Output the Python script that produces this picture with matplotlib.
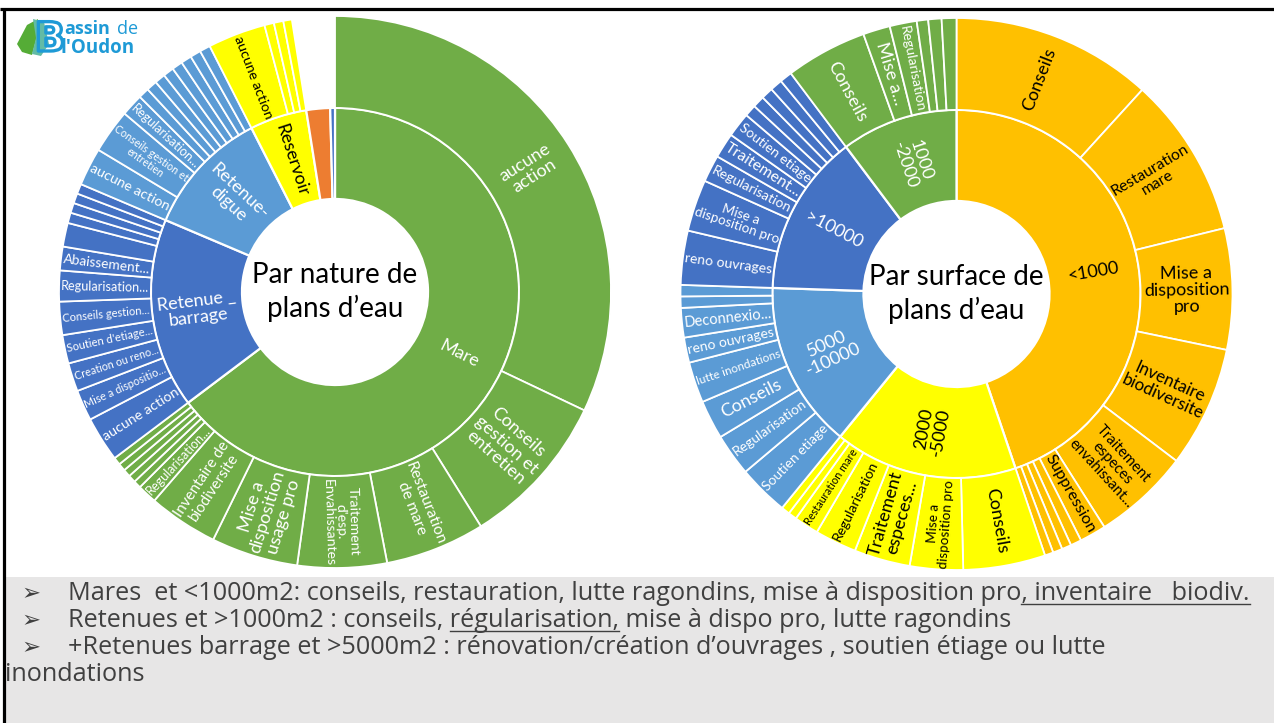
import matplotlib
matplotlib.use("Agg")
import matplotlib.pyplot as plt
import matplotlib.patheffects as pe
from matplotlib.patches import Rectangle, Polygon
import numpy as np

W, H, DPI = 1274, 723, 100

# ---------------- DATA : sunburst "Par nature de plans d'eau" ----------------
nature_parents = ["Mare", "Retenue _\nbarrage", "Retenue-\ndigue", "Reservoir", "", ""]
nature_parent_values = [233, 60, 40, 18, 7.5, 1.5]

mare_children = ["aucune\naction", "Conseils\ngestion et\nentretien", "Restauration\nde mare",
                 "Traitement\nd'esp.\nEnvahissantes", "Mise a\ndisposition\nusage pro",
                 "Inventaire de\nbiodiversite", "Regularisation...", "", "", "", "", ""]
mare_values = [115.4, 32.7, 21.0, 18.8, 18.3, 14.7, 4.1, 1.6, 1.6, 1.6, 1.6, 1.6]

barrage_children = ["aucune action", "Mise a dispositio...", "Creation ou reno...", "Soutien d'etiage...",
                    "Conseils gestion...", "Regularisation...", "Abaissement...", "", "", "", "", ""]
barrage_values = [9.5, 6.5, 6, 6, 7, 6.5, 5, 5, 2.2, 2.1, 2.1, 2.1]

digue_children = ["aucune action", "Conseils gestion et\nentretien", "Regularisation...",
                  "", "", "", "", "", "", "", ""]
digue_values = [8, 9.3, 4.7, 2.25, 2.25, 2.25, 2.25, 2.25, 2.25, 2.25, 2.25]

reservoir_children = ["aucune action", "", "", ""]
reservoir_values = [12.2, 2, 2, 1.8]

# ---------------- DATA : sunburst "Par surface de plans d'eau" ----------------
surface_parents = ["<1000", "2000\n-5000", "5000\n-10000", ">10000", "1000\n-2000"]
surface_parent_values = [161.3, 57.9, 52.7, 51.2, 36.9]

s1000_children = ["Conseils", "Restauration\nmare", "Mise a\ndisposition\npro", "Inventaire\nbiodiversite",
                  "Traitement\nespeces\nenvahissant...", "Suppression", "", "", "", ""]
s1000_values = [42.3, 33.9, 25.5, 25.5, 20.4, 5.6, 2.3, 2.0, 2.0, 1.8]

s2000_children = ["Conseils", "Mise a\ndisposition pro", "Traitement\nespeces...", "Regularisation",
                  "Restauration mare", "", ""]
s2000_values = [17.3, 11.2, 11.8, 8.8, 5.2, 1.8, 1.8]

s5000_children = ["Soutien etiage", "Regularisation", "Conseils", "lutte inondations", "reno ouvrages",
                  "Deconnexio...", "", ""]
s5000_values = [10.7, 8.9, 8.2, 8.6, 5.3, 6.2, 2.4, 2.4]

s10000_children = ["reno ouvrages", "Mise a\ndisposition pro", "Regularisation", "Traitement...",
                   "Soutien etiage", "", "", "", "", ""]
s10000_values = [11.4, 10.9, 5.7, 5.3, 5.2, 2.5, 2.5, 2.5, 2.6, 2.6]

s1000_2000_children = ["Conseils", "Mise a...", "Regularisation", "", "", ""]
s1000_2000_values = [17.2, 5.7, 5.7, 2.4, 2.8, 3.1]

# ---------------- TEXT ----------------
bullet_lines = [
    ("Mares  et <1000m2: conseils, restauration, lutte ragondins, mise à disposition pro",
     ", inventaire   biodiv.", ""),
    ("Retenues et >1000m2 : conseils, ", "régularisation,", " mise à dispo pro, lutte ragondins"),
    ("+Retenues barrage et >5000m2 : rénovation/création d’ouvrages , soutien étiage ou lutte", "", ""),
]
last_line = "inondations"

# ---------------- STYLE ----------------
GREEN, DBLUE, LBLUE, YELLOW, ORANGE, AMBER = "#70AD47", "#4472C4", "#5B9BD5", "#FFFF00", "#ED7D31", "#FFC000"
nature_colors = [GREEN, DBLUE, LBLUE, YELLOW, ORANGE, DBLUE]
surface_colors = [AMBER, YELLOW, LBLUE, DBLUE, GREEN]
LABEL_FONT = ["Lato", "DejaVu Sans"]
LOGO_BLUE = "#1E9AD6"

fig = plt.figure(figsize=(W / DPI, H / DPI), dpi=DPI)
fig.patch.set_facecolor("white")
renderer = fig.canvas.get_renderer()

bg = fig.add_axes([0, 0, 1, 1])
bg.set_xlim(0, W)
bg.set_ylim(H, 0)
bg.axis("off")
bg.add_patch(Rectangle((5, 577), W - 5, H - 577, facecolor="#E7E6E6", edgecolor="none"))
bg.plot([0, W], [8.5, 8.5], color="black", lw=2.3, solid_capstyle="butt")
bg.plot([4, 4], [8.5, H], color="black", lw=2.3, solid_capstyle="butt")

# logo
bg.add_patch(Polygon([(17, 44), (27, 25), (38, 19), (36, 40), (32, 55), (22, 52)],
                     closed=True, facecolor="#55AC36", edgecolor="none"))
bg.add_patch(Polygon([(33, 19), (44, 22), (49, 44), (41, 56), (32, 54), (36, 38)],
                     closed=True, facecolor="#62BBA6", edgecolor="none"))
bg.text(50, 40, "B", fontsize=29, color="none", ha="center", va="center",
        family="DejaVu Sans", fontweight="bold",
        path_effects=[pe.withStroke(linewidth=2.4, foreground=LOGO_BLUE)])
bg.text(64, 29, "assin", fontsize=13, color=LOGO_BLUE, ha="left", va="center",
        family="Open Sans", fontweight="bold")
bg.text(117, 29, "de", fontsize=13, color=LOGO_BLUE, ha="left", va="center", family="Open Sans")
bg.text(60, 48, "l'Oudon", fontsize=13.5, color=LOGO_BLUE, ha="left", va="center",
        family="Open Sans", fontweight="bold")

R_OUT, R_MID, R_IN = 1.0, 0.667, 0.337


def place_label(ax, wedge, text, r_in, r_out, color, max_fs):
    if not text:
        return
    t1, t2 = wedge.theta1, wedge.theta2
    mid = np.deg2rad((t1 + t2) / 2.0)
    dth = np.deg2rad(abs(t2 - t1))
    rm = (r_in + r_out) / 2.0
    p = ax.transData.transform([(0, 0), (1, 0)])
    unit = p[1, 0] - p[0, 0]
    avail_rad = (r_out - r_in) * unit * 0.95
    avail_tan = rm * dth * unit * 0.97
    t = ax.text(rm * np.cos(mid), rm * np.sin(mid), text, fontsize=max_fs, ha="center", va="center",
                ma="center", color=color, family=LABEL_FONT, linespacing=1.05,
                rotation_mode="anchor")
    bb = t.get_window_extent(renderer)
    s = min(1.0, avail_rad / bb.width, avail_tan / bb.height)
    t.set_fontsize(max_fs * s)
    rot = (np.rad2deg(mid) + 180) % 360 - 180
    if rot > 90:
        rot -= 180
    elif rot < -90:
        rot += 180
    t.set_rotation(rot)


def sunburst(cx, cy, R, parents, pvals, pcols, children, center_text):
    ax = fig.add_axes([(cx - R) / W, 1 - (cy + R) / H, 2 * R / W, 2 * R / H])
    inner, _ = ax.pie(pvals, radius=R_MID, startangle=90, counterclock=False, colors=pcols,
                      wedgeprops=dict(width=R_MID - R_IN, edgecolor="white", linewidth=1.6))
    ovals, ocols, olabs, otc = [], [], [], []
    for i, ch in enumerate(children):
        txtcol = "white" if pcols[i] in (GREEN, DBLUE, LBLUE) else "black"
        if ch is None:
            ovals.append(pvals[i]); ocols.append("none"); olabs.append(""); otc.append(None)
        else:
            labs, vals = ch
            for l, v in zip(labs, vals):
                ovals.append(v); ocols.append(pcols[i]); olabs.append(l); otc.append(txtcol)
    outer, _ = ax.pie(ovals, radius=R_OUT, startangle=90, counterclock=False, colors=ocols,
                      wedgeprops=dict(width=R_OUT - R_MID, edgecolor="white", linewidth=1.3))
    for w, c in zip(outer, ocols):
        if c == "none":
            w.set_edgecolor("none")
    ax.set_xlim(-1.0, 1.0)
    ax.set_ylim(-1.0, 1.0)
    ax.set_aspect("equal")
    ax.axis("off")
    for i, w in enumerate(inner):
        col = "white" if pcols[i] in (GREEN, DBLUE, LBLUE) else "black"
        place_label(ax, w, parents[i], R_IN, R_MID, col, 13)
    for w, l, c in zip(outer, olabs, otc):
        if c is not None:
            place_label(ax, w, l, R_MID, R_OUT, c, 13)
    ax.text(0, 0.0, center_text, fontsize=20, ha="center", va="center", ma="center",
            family=LABEL_FONT, color="black", linespacing=1.3)
    return ax


sunburst(335, 292, 276, nature_parents, nature_parent_values, nature_colors,
         [(mare_children, mare_values), (barrage_children, barrage_values),
          (digue_children, digue_values), (reservoir_children, reservoir_values), None, None],
         "Par nature de\nplans d’eau")

sunburst(956.5, 294, 276, surface_parents, surface_parent_values, surface_colors,
         [(s1000_children, s1000_values), (s2000_children, s2000_values),
          (s5000_children, s5000_values), (s10000_children, s10000_values),
          (s1000_2000_children, s1000_2000_values)],
         "Par surface de\nplans d’eau")

# ---------------- bullet text ----------------
TXT_FONT = ["Open Sans", "DejaVu Sans"]
TXT_COL = "#404040"


def width_of(s, fs):
    t = bg.text(0, 0, s + "|", fontsize=fs, family=TXT_FONT)
    w1 = t.get_window_extent(renderer).width
    t.remove()
    t = bg.text(0, 0, "|", fontsize=fs, family=TXT_FONT)
    w2 = t.get_window_extent(renderer).width
    t.remove()
    return w1 - w2


full1 = "".join(bullet_lines[0])
fs = 13.0 * 1180.0 / width_of(full1, 13.0)

X0 = 68
baselines = [600, 627, 654, 681]
for k, (a, u, b) in enumerate(bullet_lines):
    y = baselines[k]
    bg.text(21, y, "➢", fontsize=fs * 0.9, family=["DejaVu Sans"], color=TXT_COL, va="baseline")
    bg.text(X0, y, a + u + b, fontsize=fs, family=TXT_FONT, color=TXT_COL, va="baseline")
    if u:
        xa = X0 + width_of(a, fs)
        xb = X0 + width_of(a + u, fs)
        bg.plot([xa, xb], [y + 3.5, y + 3.5], color=TXT_COL, lw=1.0)
bg.text(5, baselines[3], last_line, fontsize=fs, family=TXT_FONT, color=TXT_COL, va="baseline")

fig.savefig("out.png", dpi=DPI)
